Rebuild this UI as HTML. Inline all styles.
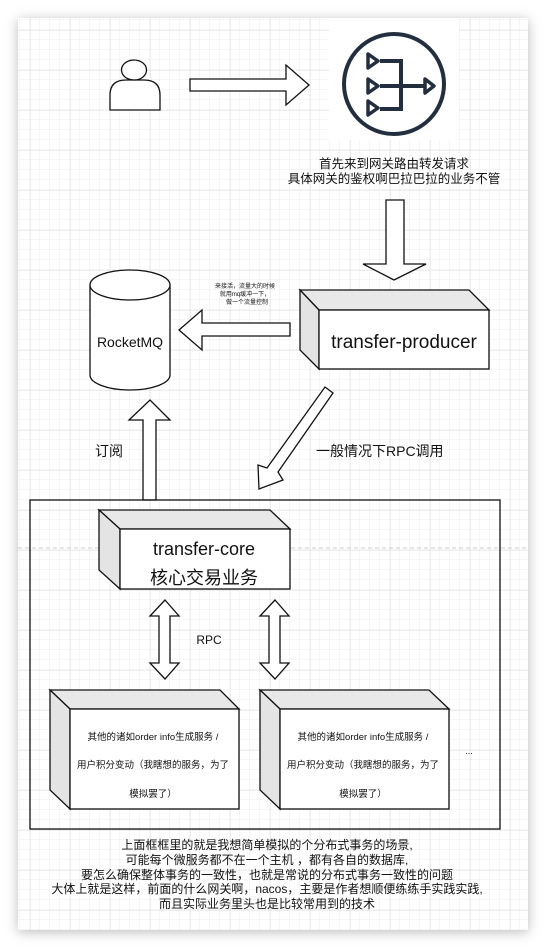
<!DOCTYPE html>
<html><head><meta charset="utf-8"><style>
html,body{margin:0;padding:0;background:#fff;}
svg{display:block;}
text{font-family:"Liberation Sans","Noto Sans CJK SC",sans-serif;fill:#111;}
</style></head><body>
<svg width="546" height="949" viewBox="0 0 546 949" xmlns="http://www.w3.org/2000/svg">
<defs>
<pattern id="minor" width="10" height="10" patternUnits="userSpaceOnUse" x="0" y="0">
<path d="M10 0 V10 M0 10 H10" stroke="#ececec" stroke-width="1" fill="none"/>
</pattern>
<pattern id="major" width="40" height="40" patternUnits="userSpaceOnUse" x="30" y="30">
<rect width="40" height="40" fill="url(#minor)"/>
<path d="M0 0 V40 M0 0 H40" stroke="#dedede" stroke-width="1" fill="none"/>
</pattern>
<filter id="sh" x="-10%" y="-10%" width="120%" height="120%"><feGaussianBlur stdDeviation="6"/></filter>
</defs>
<rect x="18" y="20" width="510" height="912" fill="#bbb" filter="url(#sh)"/>
<rect x="18" y="18" width="510" height="912" fill="#fff"/>
<rect x="18" y="18" width="510" height="912" fill="url(#major)"/>

<!-- person -->
<g fill="#fff" stroke="#111" stroke-width="1.3">
<path d="M110 110 V95 Q110 80 126 80 H144 Q160 80 160 95 V110 Z"/>
<ellipse cx="134" cy="70" rx="12.5" ry="10"/>
</g>
<!-- right arrow -->
<polygon points="190,79 286,79 286,65 309,85 286,105 286,91 190,91" fill="#fff" stroke="#111" stroke-width="1.3"/>

<!-- gateway icon -->
<rect x="329" y="18" width="130" height="122" fill="#fff"/>
<g stroke="#232f3e" stroke-width="4" fill="none">
<circle cx="394" cy="84" r="50"/>
<path d="M380 61 H401 V109 H380 M380 86 H425"/>
<path d="M368 54 L378 61 L368 68 Z M368 79 L378 86 L368 93 Z M368 101 L378 108 L368 115 Z M425 79 L434 86 L425 93 Z" stroke-width="3.5" stroke-linejoin="round"/>
</g>
<text x="394" y="168" font-size="12.5" text-anchor="middle">首先来到网关路由转发请求</text>
<text x="394" y="183" font-size="12.5" text-anchor="middle">具体网关的鉴权啊巴拉巴拉的业务不管</text>

<!-- down arrow -->
<polygon points="386,200 404,200 404,264 426,264 394,280 363,264 386,264" fill="#fff" stroke="#111" stroke-width="1.3"/>

<!-- producer -->
<g stroke="#111" stroke-width="1.3">
<polygon points="300,290 469,290 489,310 319,310" fill="#e8e8e8"/>
<polygon points="300,290 319,310 319,369 300,350" fill="#e4e4e4"/>
<rect x="319" y="310" width="170" height="59" fill="#fff"/>
</g>
<text x="404" y="348" font-size="19" text-anchor="middle">transfer-producer</text>
<g font-size="6" text-anchor="middle"><text x="245" y="288">来接活，流量大的时候</text><text x="245" y="296">就用mq缓冲一下，</text><text x="247" y="304">做一个流量控制</text></g>

<!-- left arrow -->
<polygon points="290,323 202,323 202,310 179,330 202,350 202,336 290,336" fill="#fff" stroke="#111" stroke-width="1.3"/>

<!-- RocketMQ -->
<g fill="#fff" stroke="#111" stroke-width="1.3">
<path d="M90 285 V375 A40 15 0 0 0 170 375 V285"/>
<ellipse cx="130" cy="285" rx="40" ry="15"/>
</g>
<text x="130" y="347" font-size="14" text-anchor="middle">RocketMQ</text>

<!-- up arrow -->
<polygon points="143,500 143,420 129,420 150,400 170,420 156,420 156,500" fill="#fff" stroke="#111" stroke-width="1.3"/>
<text x="95" y="456" font-size="14">订阅</text>

<!-- diagonal arrow -->
<polygon points="325,387 333,393 278,472 283,480 259,489 258,465 267,468" fill="#fff" stroke="#111" stroke-width="1.3"/>
<text x="316" y="456" font-size="14">一般情况下RPC调用</text>

<!-- container -->
<rect x="30" y="500" width="470" height="329" fill="none" stroke="#111" stroke-width="1.3"/>
<line x1="18" y1="548" x2="528" y2="548" stroke="#ccc" stroke-dasharray="4,3"/>

<!-- core -->
<g stroke="#111" stroke-width="1.3">
<polygon points="99,510 270,510 290,529 120,529" fill="#e8e8e8"/>
<polygon points="99,510 120,529 120,589 99,570" fill="#e4e4e4"/>
<rect x="120" y="529" width="170" height="60" fill="#fff"/>
</g>
<text x="204" y="555" font-size="18" text-anchor="middle">transfer-core</text>
<text x="204" y="584" font-size="18" text-anchor="middle">核心交易业务</text>

<!-- double arrows -->
<g fill="#fff" stroke="#111" stroke-width="1.3">
<polygon points="165,600 179,616 170,616 170,663 179,663 165,679 150,663 159,663 159,616 150,616"/>
<polygon points="275,600 289,616 280,616 280,663 289,663 275,679 260,663 269,663 269,616 260,616"/>
</g>
<text x="209" y="644" font-size="12" text-anchor="middle">RPC</text>

<!-- services -->
<g stroke="#111" stroke-width="1.3">
<polygon points="50,690 220,690 239,709 70,709" fill="#e8e8e8"/>
<polygon points="50,690 70,709 70,809 50,790" fill="#e4e4e4"/>
<rect x="70" y="709" width="169" height="100" fill="#fff"/>
<polygon points="260,690 429,690 449,709 280,709" fill="#e8e8e8"/>
<polygon points="260,690 280,709 280,809 260,790" fill="#e4e4e4"/>
<rect x="280" y="709" width="169" height="100" fill="#fff"/>
</g>
<g font-size="9.5" text-anchor="middle">
<text x="153" y="740">其他的诸如order info生成服务 /</text>
<text x="153" y="768">用户积分变动（我瞎想的服务，为了</text>
<text x="153" y="797">模拟罢了）</text>
<text x="363" y="740">其他的诸如order info生成服务 /</text>
<text x="363" y="768">用户积分变动（我瞎想的服务，为了</text>
<text x="363" y="797">模拟罢了）</text>
</g>
<text x="469" y="754" font-size="9" text-anchor="middle">...</text>

<g font-size="12" text-anchor="middle">
<text x="267" y="849">上面框框里的就是我想简单模拟的个分布式事务的场景,</text>
<text x="267" y="864">可能每个微服务都不在一个主机 ，都有各自的数据库,</text>
<text x="267" y="879">要怎么确保整体事务的一致性，也就是常说的分布式事务一致性的问题</text>
<text x="267" y="893">大体上就是这样，前面的什么网关啊，nacos，主要是作者想顺便练练手实践实践,</text>
<text x="267" y="908">而且实际业务里头也是比较常用到的技术</text>
</g>
</svg>
</body></html>
